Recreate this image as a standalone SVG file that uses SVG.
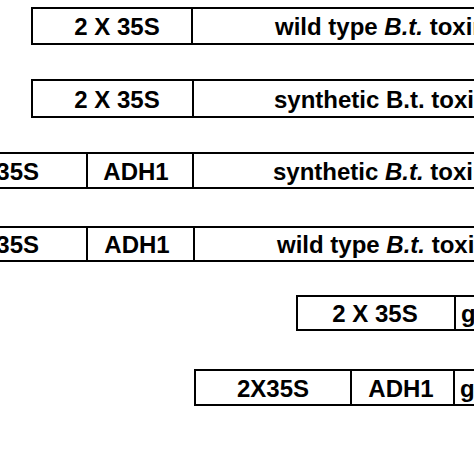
<svg xmlns="http://www.w3.org/2000/svg" width="474" height="474" viewBox="0 0 474 474">
<style>
.box{fill:#fff;stroke:#000;stroke-width:2}
.div{stroke:#000;stroke-width:2}
text{font-family:"Liberation Sans",Arial,sans-serif;font-weight:bold;font-size:24px;fill:#000}
.m{text-anchor:middle}
.i{font-style:italic}
.u{text-decoration:underline}
</style>
<rect width="474" height="474" fill="#fff"/>
<g id="construct1">
<rect class="box" x="32" y="8" width="460" height="36"/>
<line class="div" x1="192" y1="8" x2="192" y2="44"/>
<text class="m" x="117" y="35">2 X 35S</text>
<text x="275" y="35">wild type <tspan class="i">B.t.</tspan> toxin</text>
</g>
<g id="construct2">
<rect class="box" x="32" y="80" width="460" height="37"/>
<line class="div" x1="193" y1="80" x2="193" y2="117"/>
<text class="m" x="117" y="108">2 X 35S</text>
<text x="274" y="108">synthetic B.t. toxin</text>
</g>
<g id="construct3">
<rect class="box" x="-20" y="153" width="512" height="35"/>
<line class="div" x1="87" y1="153" x2="87" y2="188"/>
<line class="div" x1="193" y1="153" x2="193" y2="188"/>
<text style="text-anchor:end" x="39" y="180">2 X 35S</text>
<text class="m" x="136" y="180">ADH1</text>
<text x="273" y="180">synthetic <tspan class="i">B.t.</tspan> toxin</text>
</g>
<g id="construct4">
<rect class="box" x="-20" y="227" width="512" height="34"/>
<line class="div" x1="87" y1="227" x2="87" y2="261"/>
<line class="div" x1="194" y1="227" x2="194" y2="261"/>
<text style="text-anchor:end" x="39" y="253">2 X 35S</text>
<text class="m" x="137" y="253">ADH1</text>
<text x="277" y="253">wild type <tspan class="i">B.t.</tspan> toxin</text>
</g>
<g id="construct5">
<rect class="box" x="297" y="296" width="195" height="34"/>
<line class="div" x1="455" y1="296" x2="455" y2="330"/>
<text class="m" x="375" y="322">2 X 35S</text>
<text class="u" x="461" y="322">g</text>
</g>
<g id="construct6">
<rect class="box" x="195" y="370" width="297" height="35"/>
<line class="div" x1="351" y1="370" x2="351" y2="405"/>
<line class="div" x1="454" y1="370" x2="454" y2="405"/>
<text class="m" x="273" y="397">2X35S</text>
<text class="m" x="401" y="397">ADH1</text>
<text class="u" x="460" y="397">g</text>
</g>
</svg>
